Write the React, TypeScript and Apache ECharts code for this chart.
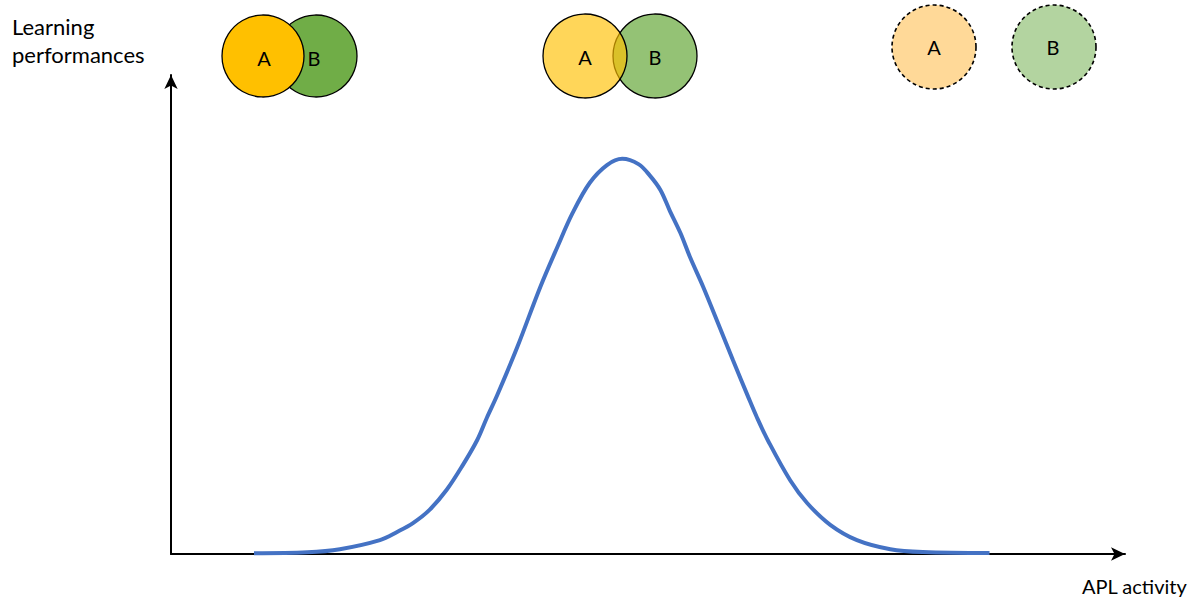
import React, { useEffect, useRef } from "react";
import * as echarts from "echarts";

// Bell curve: x = APL activity (0–100), y = learning performance (0–100)
const activity = [8.7, 14.3, 17.7, 21.9, 23.7, 25.4, 27.1, 28.9, 30.6, 32.1, 33.1, 34.2, 36.3, 38.7, 40.5, 42.1, 43.9, 45.7, 47.3, 49.0, 50.2, 51.3, 52.3, 53.4, 54.4, 55.8, 57.5, 58.9, 60.5, 61.4, 62.6, 64.9, 66.7, 69.1, 71.9, 75.4, 78.8, 85.8];
const performance = [0.15, 0.35, 1.0, 2.9, 4.6, 6.5, 9.2, 13.4, 18.6, 23.8, 28.4, 33.2, 43.2, 55.7, 64.1, 71.2, 77.5, 81.2, 82.5, 81.4, 79.0, 76.0, 71.6, 67.0, 62.0, 55.7, 47.4, 40.5, 32.8, 28.6, 23.6, 15.4, 10.6, 6.1, 2.9, 1.0, 0.4, 0.2];

const yAxisTitle = ["Learning", "performances"];
const xAxisTitle = "APL activity";
const circleLabels = ["A", "B"];

const FONT = "Lato, 'Open Sans', sans-serif";

export default function App() {
  const ref = useRef<HTMLDivElement>(null);
  useEffect(() => {
    if (!ref.current) return;
    const chart = echarts.init(ref.current, null, { renderer: "svg" });
    const data = activity.map((x, i) => [x, performance[i]]);

    const circle = (cx: number, cy: number, r: number, fill: string, dashed: boolean) => ({
      type: "circle",
      shape: { cx, cy, r },
      style: {
        fill,
        stroke: "#000",
        lineWidth: dashed ? 1.6 : 1.3,
        lineDash: dashed ? [4, 3] : null,
      },
    });
    const label = (x: number, y: number, t: string) => ({
      type: "text",
      x,
      y,
      style: {
        text: t,
        fontSize: 20,
        fontFamily: FONT,
        fill: "#000",
        align: "center",
        verticalAlign: "middle",
      },
    });

    chart.setOption({
      animation: false,
      backgroundColor: "#fff",
      grid: { left: 171, right: 79, top: 75, bottom: 44 },
      xAxis: {
        type: "value",
        min: 0,
        max: 100,
        axisLine: {
          show: true,
          symbol: ["none", "arrow"],
          symbolSize: [10, 14],
          lineStyle: { color: "#000", width: 2 },
        },
        axisTick: { show: false },
        axisLabel: { show: false },
        splitLine: { show: false },
      },
      yAxis: {
        type: "value",
        min: 0,
        max: 100,
        axisLine: {
          show: true,
          symbol: ["none", "arrow"],
          symbolSize: [10, 14],
          lineStyle: { color: "#000", width: 2 },
        },
        axisTick: { show: false },
        axisLabel: { show: false },
        splitLine: { show: false },
      },
      series: [
        {
          type: "line",
          data,
          smooth: 0.35,
          showSymbol: false,
          lineStyle: { color: "#4472C4", width: 4 },
          z: 3,
        },
      ],
      graphic: [
        {
          type: "text",
          top: 12,
          left: 12,
          style: {
            text: yAxisTitle.join("\n"),
            fontSize: 22,
            lineHeight: 28,
            fontFamily: FONT,
            fill: "#000",
          },
        },
        {
          type: "text",
          x: 1082,
          y: 586,
          style: {
            text: xAxisTitle,
            fontSize: 20,
            fontFamily: FONT,
            fill: "#000",
            verticalAlign: "middle",
          },
        },
        // pair 1: overlapping, solid
        circle(316, 56, 41, "#70AD47", false),
        circle(263, 56, 41, "#FFC000", false),
        label(264, 58, circleLabels[0]),
        label(314, 58, circleLabels[1]),
        // pair 2: overlapping, translucent
        circle(655, 56, 42, "rgba(112,173,71,0.75)", false),
        circle(585, 56, 42, "rgba(255,192,0,0.65)", false),
        label(585, 57, circleLabels[0]),
        label(655, 57, circleLabels[1]),
        // pair 3: separate, dashed
        circle(934, 47, 42, "#FFD998", true),
        circle(1054, 47, 42, "#B3D4A0", true),
        label(934, 47, circleLabels[0]),
        label(1053, 47, circleLabels[1]),
      ],
    });
    return () => chart.dispose();
  }, []);
  return <div ref={ref} style={{ position: "fixed", left: 0, top: 0, width: 1204, height: 598 }} />;
}
